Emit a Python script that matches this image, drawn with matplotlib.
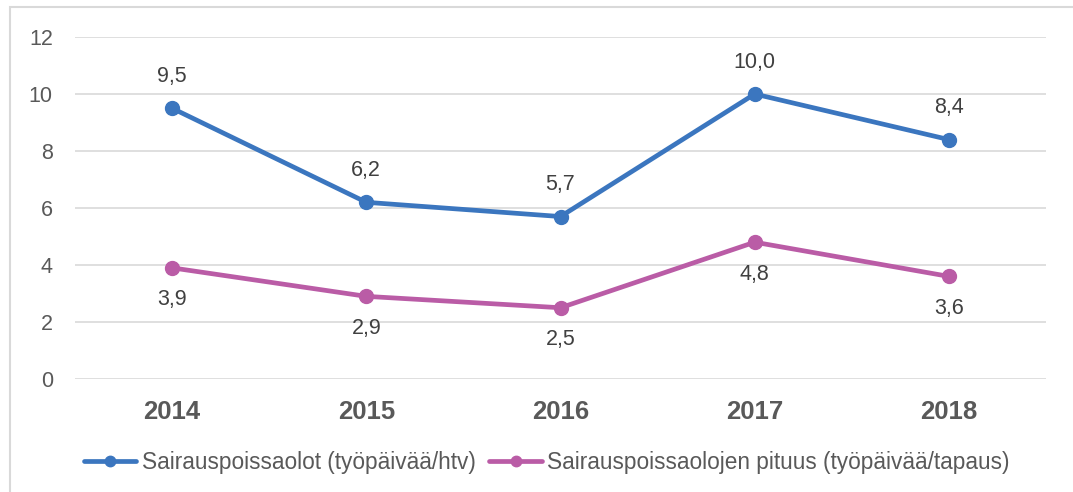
import numpy as np
import matplotlib.pyplot as plt
from matplotlib.patches import Rectangle

plt.rcParams['font.family'] = ['Liberation Sans', 'DejaVu Sans']

years = ['2014', '2015', '2016', '2017', '2018']
absences = [9.5, 6.2, 5.7, 10.0, 8.4]
duration = [3.9, 2.9, 2.5, 4.8, 3.6]
label_abs = 'Sairauspoissaolot (työpäivää/htv)'
label_dur = 'Sairauspoissaolojen pituus (työpäivää/tapaus)'

blue = '#3B76BF'
pink = '#BA5CA6'
txt = '#595959'

fig = plt.figure(figsize=(10.73, 4.92), dpi=100)
ax = fig.add_axes([75 / 1073, 1 - 379 / 492, (1046 - 75) / 1073, (379 - 37) / 492])

x = np.arange(len(years))
ax.plot(x, absences, color=blue, lw=3.4, marker='o', ms=10, label=label_abs, solid_capstyle='round')
ax.plot(x, duration, color=pink, lw=3.4, marker='o', ms=10, label=label_dur, solid_capstyle='round')

for xi, v in zip(x, absences):
    ax.annotate(f'{v:.1f}'.replace('.', ','), (xi, v), xytext=(0, 23), textcoords='offset points',
                ha='center', va='center', fontsize=15.5, color='#404040')
for xi, v in zip(x, duration):
    ax.annotate(f'{v:.1f}'.replace('.', ','), (xi, v), xytext=(0, -23), textcoords='offset points',
                ha='center', va='center', fontsize=15.5, color='#404040')

ax.set_xlim(-0.5, len(years) - 0.5)
ax.set_ylim(0, 12)
ax.set_yticks(range(0, 13, 2))
ax.set_xticks(x)
ax.set_xticklabels(years, fontsize=18.5, fontweight='bold', color=txt)
ax.tick_params(axis='y', labelsize=15.5, labelcolor=txt, length=0, pad=16)
ax.tick_params(axis='x', length=0, pad=15)
ax.grid(axis='y', color='#D9D9D9', lw=1.2)
ax.set_axisbelow(True)
for s in ax.spines.values():
    s.set_visible(False)

leg = fig.legend(loc='center', bbox_to_anchor=(547 / 1073, 1 - 462 / 492), ncol=2, frameon=False,
                 fontsize=16.3, handlelength=2.3, handletextpad=0.25, columnspacing=0.6,
                 markerscale=0.75)
for t in leg.get_texts():
    t.set_color(txt)

fig.patches.append(Rectangle((10 / 1073, -0.05), 1.1, 1 - 7 / 492 + 0.05, transform=fig.transFigure,
                             fill=False, edgecolor='#D9D9D9', lw=1.5))

fig.savefig('out.png', dpi=100)
